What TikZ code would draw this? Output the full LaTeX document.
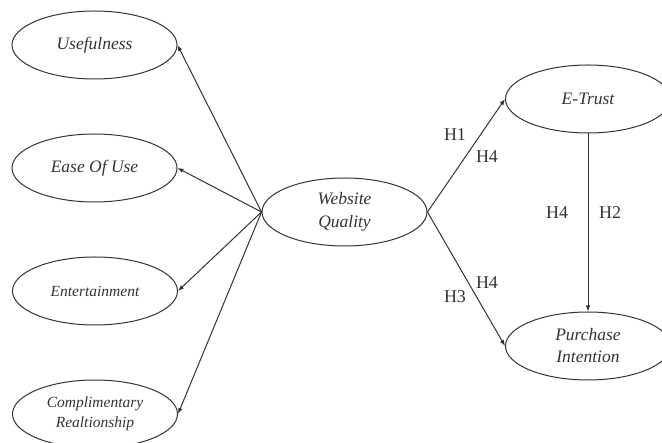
\documentclass[tikz,border=0pt]{standalone}
\usepackage{fontspec}
\setmainfont{Liberation Serif}
\usetikzlibrary{shapes.geometric,arrows.meta}
\definecolor{ink}{HTML}{333333}
\begin{document}
\begin{tikzpicture}[x=1pt,y=-1pt,
  cons/.style={ellipse,draw=ink,line width=1pt,minimum width=165pt,minimum height=68pt,inner sep=0pt,
    align=center,text=ink,font=\fontsize{17.5}{23}\selectfont\itshape},
  small/.style={font=\fontsize{15.5}{20}\selectfont\itshape},
  arr/.style={draw=ink,line width=1pt,-{Latex[length=6pt,width=4.5pt]}},
  hyp/.style={text=ink,font=\fontsize{18}{20}\selectfont,inner sep=0pt}]
\useasboundingbox (0,0) rectangle (662,443);
\node[cons] (u) at (94.5,45) {Usefulness};
\node[cons] (e) at (94.5,168) {Ease Of Use};
\node[cons,small] (t) at (95,291) {Entertainment};
\node[cons,small] (c) at (95,414) {Complimentary\\Realtionship};
\node[cons] (w) at (344.5,212) {Website\\Quality};
\node[cons] (tr) at (588,99) {E-Trust};
\node[cons,font=\fontsize{17.5}{22}\selectfont\itshape] (p) at (588,346) {Purchase\\Intention};
\draw[arr] (w.west) -- (u.east);
\draw[arr] (w.west) -- (e.east);
\draw[arr] (w.west) -- (t.east);
\draw[arr] (w.west) -- (c.east);
\draw[arr] (w.east) -- (tr.west);
\draw[arr] (w.east) -- (p.west);
\draw[arr] (tr.south) -- (p.north);
\node[hyp] (h1) at (455,135) {H1};
\node[hyp] (h4a) at (487,157) {H4};
\node[hyp] (h4b) at (557,213) {H4};
\node[hyp] (h2) at (610,213) {H2};
\node[hyp] (h4c) at (487,283) {H4};
\node[hyp] (h3) at (455,297) {H3};
\end{tikzpicture}
\end{document}
